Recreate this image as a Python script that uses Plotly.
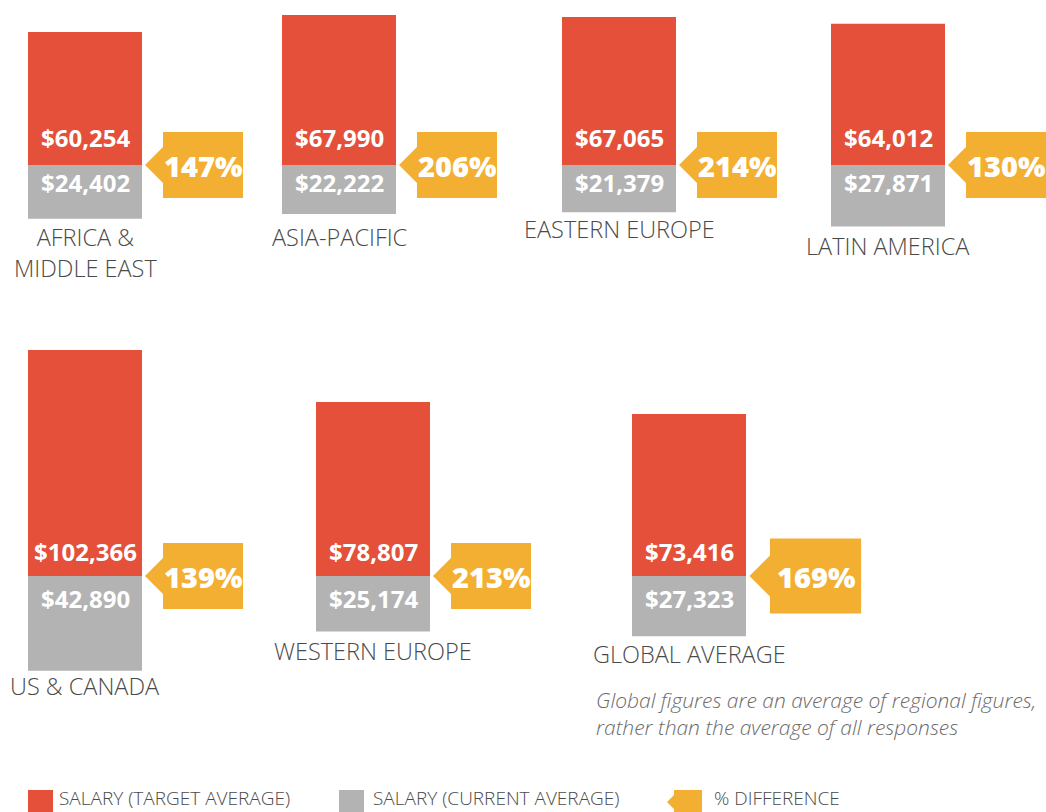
import plotly.graph_objects as go

# ---------------- data ----------------
regions = ["AFRICA &<br>MIDDLE EAST", "ASIA-PACIFIC", "EASTERN EUROPE", "LATIN AMERICA",
           "US & CANADA", "WESTERN EUROPE", "GLOBAL AVERAGE"]
target_salary = [60254, 67990, 67065, 64012, 102366, 78807, 73416]
current_salary = [24402, 22222, 21379, 27871, 42890, 25174, 27323]
pct_difference = [147, 206, 214, 130, 139, 213, 169]

# ---------------- layout constants ----------------
W, H = 1046, 812
K = 453.0                      # dollars per pixel
bar_x = [85, 339, 619, 888, 85, 373, 689]
bar_row = [1, 1, 1, 1, 2, 2, 2]
bar_w = 114
badge_scale = [1, 1, 1, 1, 1, 1, 1.14]
label_gap = [19, 24, 18, 20, 16, 20, 19]
RED, GRAY, ORANGE = "#E4503A", "#B3B3B3", "#F3AF31"
TXT = "#4a4a4a"
FONT = "Open Sans"

# row geometry (pixels from top)
row_top = {1: 0, 2: 340}
row_bot = {1: 330, 2: 770}
row_zero = {1: 165, 2: 576}
red_shift = {1: 28, 2: 25}
gray_shift = {1: 17, 2: 22}

fig = go.Figure()
for r in (1, 2):
    idx = [i for i in range(len(regions)) if bar_row[i] == r]
    xa = "x" if r == 1 else "x2"
    ya = "y" if r == 1 else "y2"
    fig.add_trace(go.Bar(
        x=[bar_x[i] for i in idx], y=[target_salary[i] for i in idx], base=0,
        width=bar_w, marker=dict(color=RED, line=dict(width=0)),
        xaxis=xa, yaxis=ya, showlegend=False, name="Salary (target average)"))
    fig.add_trace(go.Bar(
        x=[bar_x[i] for i in idx], y=[current_salary[i] for i in idx],
        base=[-current_salary[i] for i in idx],
        width=bar_w, marker=dict(color=GRAY, line=dict(width=0)),
        xaxis=xa, yaxis=ya, showlegend=False, name="Salary (current average)"))

annotations = []
shapes = []
for i, name in enumerate(regions):
    r = bar_row[i]
    xr = "x" if r == 1 else "x2"
    yr = "y" if r == 1 else "y2"
    # value labels
    annotations.append(dict(x=bar_x[i], y=0, xref=xr, yref=yr, yshift=red_shift[r],
                            text=f"${target_salary[i]:,}", showarrow=False,
                            font=dict(family=FONT, size=24, color="white", weight="bold"),
                            xanchor="center", yanchor="middle"))
    annotations.append(dict(x=bar_x[i], y=0, xref=xr, yref=yr, yshift=-gray_shift[r],
                            text=f"${current_salary[i]:,}", showarrow=False,
                            font=dict(family=FONT, size=24, color="white", weight="bold"),
                            xanchor="center", yanchor="middle"))
    # region label
    annotations.append(dict(x=bar_x[i], y=-current_salary[i], xref=xr, yref=yr,
                            yshift=-(label_gap[i] - 19), text=name, showarrow=False,
                            font=dict(family=FONT, size=23.5, color=TXT, weight=300),
                            xanchor="center", yanchor="top", align="center"))
    # badge
    s = badge_scale[i]
    p, n, rr, h, th = 3 * s, 21 * s, 101 * s, 33 * s, 18 * s
    path = (f"M {p},0 L {n},{th} L {n},{h} L {rr},{h} L {rr},{-h} "
            f"L {n},{-h} L {n},{-th} Z")
    shapes.append(dict(type="path", xref=xr, yref=yr, xsizemode="pixel", ysizemode="pixel",
                       xanchor=bar_x[i] + bar_w / 2, yanchor=0, path=path,
                       fillcolor=ORANGE, line=dict(width=0), layer="above"))
    annotations.append(dict(x=bar_x[i] + bar_w / 2, y=0, xref=xr, yref=yr,
                            xshift=(n + rr) / 2, text=f"{pct_difference[i]}%", showarrow=False,
                            font=dict(family=FONT, size=29, color="white", weight=800),
                            xanchor="center", yanchor="middle"))

def px(xp):
    return xp / W

def py(yp):
    return 1 - yp / H

# note
annotations.append(dict(x=px(594), y=py(713), xref="paper", yref="paper",
                        text="Global figures are an average of regional figures,<br>"
                             "rather than the average of all responses",
                        showarrow=False, align="left", xanchor="left", yanchor="middle",
                        font=dict(family=FONT, size=21, color="#6b6b6b", style="italic",
                                  weight=300)))

# legend
leg_y = 802
shapes.append(dict(type="rect", xref="paper", yref="paper", x0=px(28), x1=px(53),
                   y0=py(790), y1=py(814), fillcolor=RED, line=dict(width=0)))
shapes.append(dict(type="rect", xref="paper", yref="paper", x0=px(339), x1=px(364),
                   y0=py(790), y1=py(814), fillcolor=GRAY, line=dict(width=0)))
shapes.append(dict(type="path", xref="paper", yref="paper", xsizemode="pixel",
                   ysizemode="pixel", xanchor=px(667), yanchor=py(leg_y),
                   path="M 0,0 L 7,7 L 7,12 L 35,12 L 35,-12 L 7,-12 L 7,-7 Z",
                   fillcolor=ORANGE, line=dict(width=0)))
for xx, t in [(57, "SALARY (TARGET AVERAGE)"), (371, "SALARY (CURRENT AVERAGE)"),
              (712, "% DIFFERENCE")]:
    annotations.append(dict(x=px(xx), y=py(798), xref="paper", yref="paper", text=t,
                            showarrow=False, xanchor="left", yanchor="middle",
                            font=dict(family=FONT, size=19, color=TXT, weight=300)))

ax_common = dict(visible=False, showgrid=False, zeroline=False, fixedrange=True)
fig.update_layout(
    width=W, height=H, margin=dict(l=0, r=0, t=0, b=0),
    paper_bgcolor="white", plot_bgcolor="white", barmode="overlay",
    xaxis=dict(domain=[0, 1], range=[0, W], anchor="y", **ax_common),
    xaxis2=dict(domain=[0, 1], range=[0, W], anchor="y2", **ax_common),
    yaxis=dict(domain=[1 - row_bot[1] / H, 1 - row_top[1] / H],
               range=[-(row_bot[1] - row_zero[1]) * K, (row_zero[1] - row_top[1]) * K],
               anchor="x", **ax_common),
    yaxis2=dict(domain=[1 - row_bot[2] / H, 1 - row_top[2] / H],
                range=[-(row_bot[2] - row_zero[2]) * K, (row_zero[2] - row_top[2]) * K],
                anchor="x2", **ax_common),
    shapes=shapes, annotations=annotations, showlegend=False,
)

fig.write_html("out.html", config={"displayModeBar": False},
               post_script="document.body.style.margin='0';document.body.style.overflow='hidden';")
